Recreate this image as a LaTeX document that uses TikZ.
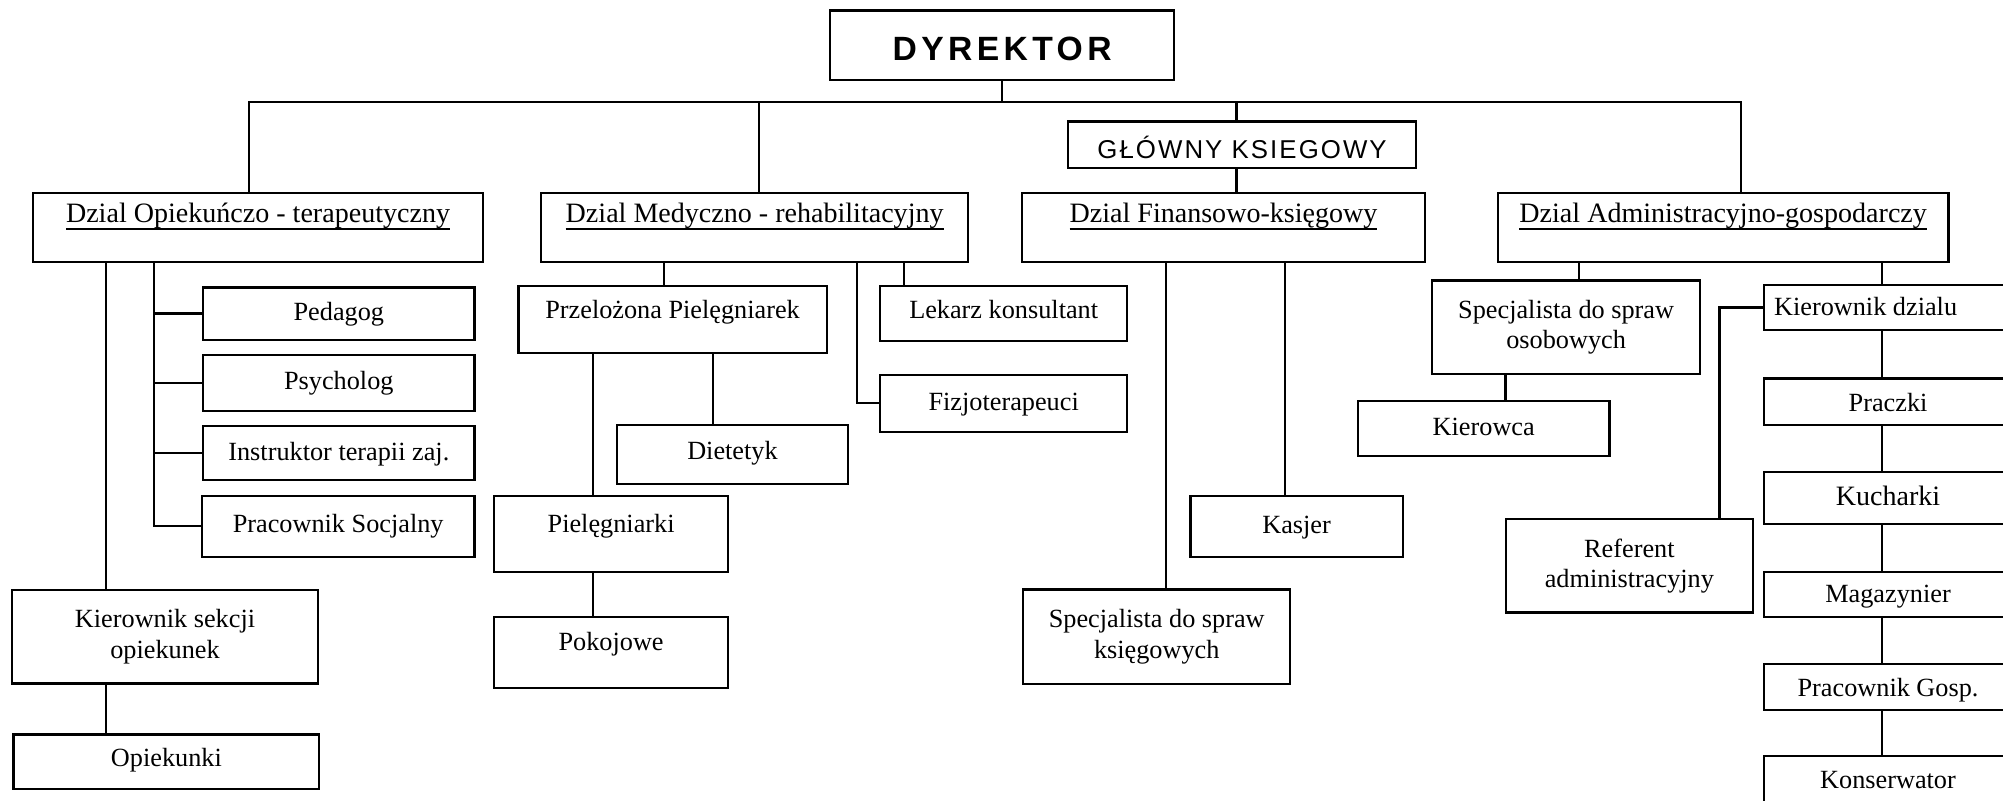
\documentclass[tikz,border=0pt]{standalone}
\usepackage{fontspec}
\setmainfont{Liberation Serif}
\newfontfamily\sansf{Liberation Sans}
\newcommand\ulx[1]{\setbox0\hbox{#1}\rlap{\rule[-3.3pt]{\wd0}{0.7pt}}\box0}
% box with given corners and text baseline
\newcommand\bx[8][]{%
  \pgfmathsetlengthmacro\bxw{(#5-#3)*0.02cm}%
  \pgfmathsetlengthmacro\bxh{(#7-#4)*0.02cm}%
  \pgfmathsetlengthmacro\bxd{(#6-#7)*0.02cm}%
  \node[box,minimum width=\bxw,text height=\bxh,text depth=\bxd,anchor=north west,#1] (#2) at (#3,#4) {#8};}
% box with given corners, centred (multi-line) text
\newcommand\bxc[7][]{%
  \pgfmathsetlengthmacro\bxw{(#5-#3)*0.02cm}%
  \pgfmathsetlengthmacro\bxh{(#6-#4)*0.02cm}%
  \node[box,minimum width=\bxw,minimum height=\bxh,align=center,#1] (#2) at ({(#3+#5)/2},{(#4+#6)/2}) {#7};}
\begin{document}
\begin{tikzpicture}[x=0.02cm,y=-0.02cm,
  box/.style={draw,line width=1pt,inner sep=0pt,outer sep=0pt,font=\fontsize{11.7}{13.6}\selectfont},
  dept/.style={font=\fontsize{12.5}{14}\selectfont},
  conn/.style={line width=1pt}]
\useasboundingbox (0,0) rectangle (1568,626.26);
\fill[white] (0,0) rectangle (1568,626.26);
\clip (0,0) rectangle (1568,626.26);

% top
\bx[font={\sansf\bfseries\fontsize{15}{18}\selectfont\addfontfeature{LetterSpace=13}}]{dyr}{650}{8.3}{919}{62.6}{47}{DYREKTOR}
\bx[font={\sansf\fontsize{11.5}{13}\selectfont\addfontfeature{LetterSpace=8}}]{glow}{836}{95.2}{1108.6}{131.8}{124}{GŁÓWNY KSIEGOWY}

% departments
\bx[dept]{opiek}{26}{150.8}{378}{205}{174}{\ulx{Dzial Opiekuńczo - terapeutyczny}}
\bx[dept]{medy}{423.5}{150.8}{758}{205}{174}{\ulx{Dzial Medyczno - rehabilitacyjny}}
\bx[dept]{fin}{800}{150.8}{1115.6}{205}{174}{\ulx{Dzial Finansowo-księgowy}}
\bx[dept]{adm}{1172.6}{150.8}{1525.3}{205}{174}{\ulx{Dzial Administracyjno-gospodarczy}}

% column 1
\bx{ped}{159}{225}{371.5}{266}{251}{Pedagog}
\bx{psy}{159}{277.7}{371.5}{322}{305}{Psycholog}
\bx{ins}{159}{333.6}{371.5}{376}{360.5}{Instruktor terapii zaj.}
\bx{pra}{158}{388}{371.5}{436}{417}{Pracownik Socjalny}
\bxc[yshift=2pt]{kse}{9.4}{465.6}{249}{538.6}{Kierownik sekcji\\opiekunek}
\bx{opk}{10.5}{575}{250}{617.4}{600}{Opiekunki}

% column 2
\bx{prz}{405.8}{223.9}{647.2}{276.6}{249.2}{Przelożona Pielęgniarek}
\bx{lek}{688.9}{223.9}{882.5}{266.7}{249.2}{Lekarz konsultant}
\bx{fiz}{688.9}{293.6}{882.5}{337.9}{321}{Fizjoterapeuci}
\bx{die}{482.8}{332.7}{664}{378.9}{360}{Dietetyk}
\bx{pie}{387}{388}{569.8}{447.5}{417}{Pielęgniarki}
\bx{pok}{387}{483}{569.8}{538.6}{509}{Pokojowe}

% column 3
\bx{kas}{932}{388}{1098}{436}{418}{Kasjer}
\bxc[yshift=2pt]{spk}{801}{465}{1010}{539}{Specjalista do spraw\\księgowych}

% column 4
\bxc[yshift=2pt]{spo}{1121}{223}{1331}{296}{Specjalista do spraw\\osobowych}
\bx{kie}{1063}{314}{1260}{357}{341}{Kierowca}
\bx{kdz}{1381}{223.1}{1575}{258.3}{246.6}{Kierownik dzialu\kern20pt}
\bxc[yshift=2pt]{ref}{1179}{410}{1372}{483}{Referent\\administracyjny}
\bx{pcz}{1381}{296.2}{1575}{332.7}{322}{Praczki}
\bx[font=\fontsize{12.5}{14}\selectfont]{kuc}{1381}{369.2}{1575}{410}{396}{Kucharki}
\bx{mag}{1381}{447.5}{1575}{483}{472}{Magazynier}
\bx{pgo}{1381}{519.5}{1575}{556}{545}{Pracownik Gosp.}
\bx{kon}{1381}{592}{1575}{640}{617}{Konserwator}

% connectors: top level
\coordinate (b1) at (195,79.6);
\coordinate (b2) at (594,79.6);
\coordinate (b3) at (968,79.6);
\coordinate (b4) at (1363,79.6);
\draw[conn] (b1 |- opiek.north) -- (b1) -- (b4) -- (b4 |- adm.north);
\draw[conn] (dyr.south) -- (dyr.south |- b1);
\draw[conn] (b2) -- (b2 |- medy.north);
\draw[conn] (b3) -- (b3 |- glow.north);
\draw[conn] (b3 |- glow.south) -- (b3 |- fin.north);

% column 1
\coordinate (v1) at (83,0);
\coordinate (v2) at (120.6,0);
\draw[conn] (v1 |- opiek.south) -- (v1 |- kse.north);
\draw[conn] (v1 |- kse.south) -- (v1 |- opk.north);
\draw[conn] (v2 |- opiek.south) |- (pra.west);
\draw[conn] (v2 |- ped.west) -- (ped.west);
\draw[conn] (v2 |- psy.west) -- (psy.west);
\draw[conn] (v2 |- ins.west) -- (ins.west);

% column 2
\coordinate (v3) at (520,0);
\coordinate (v4) at (671.1,0);
\coordinate (v5) at (707.7,0);
\coordinate (v6) at (464.5,0);
\coordinate (v7) at (558.4,0);
\draw[conn] (v3 |- medy.south) -- (v3 |- prz.north);
\draw[conn] (v5 |- medy.south) -- (v5 |- lek.north);
\draw[conn] (v4 |- medy.south) |- (fiz.west);
\draw[conn] (v6 |- prz.south) -- (v6 |- pie.north);
\draw[conn] (v7 |- prz.south) -- (v7 |- die.north);
\draw[conn] (v6 |- pie.south) -- (v6 |- pok.north);

% column 3
\coordinate (v8) at (913,0);
\coordinate (v9) at (1006,0);
\draw[conn] (v8 |- fin.south) -- (v8 |- spk.north);
\draw[conn] (v9 |- fin.south) -- (v9 |- kas.north);

% column 4
\coordinate (v10) at (1236,0);
\coordinate (v11) at (1473,0);
\coordinate (v12) at (1178.6,0);
\coordinate (v13) at (1346,0);
\draw[conn] (v10 |- adm.south) -- (v10 |- spo.north);
\draw[conn] (v11 |- adm.south) -- (v11 |- kdz.north);
\draw[conn] (v12 |- spo.south) -- (v12 |- kie.north);
\draw[conn] (kdz.west) -| (v13 |- ref.north);
\draw[conn] (v11 |- kdz.south) -- (v11 |- pcz.north);
\draw[conn] (v11 |- pcz.south) -- (v11 |- kuc.north);
\draw[conn] (v11 |- kuc.south) -- (v11 |- mag.north);
\draw[conn] (v11 |- mag.south) -- (v11 |- pgo.north);
\draw[conn] (v11 |- pgo.south) -- (v11 |- kon.north);
\end{tikzpicture}
\end{document}
